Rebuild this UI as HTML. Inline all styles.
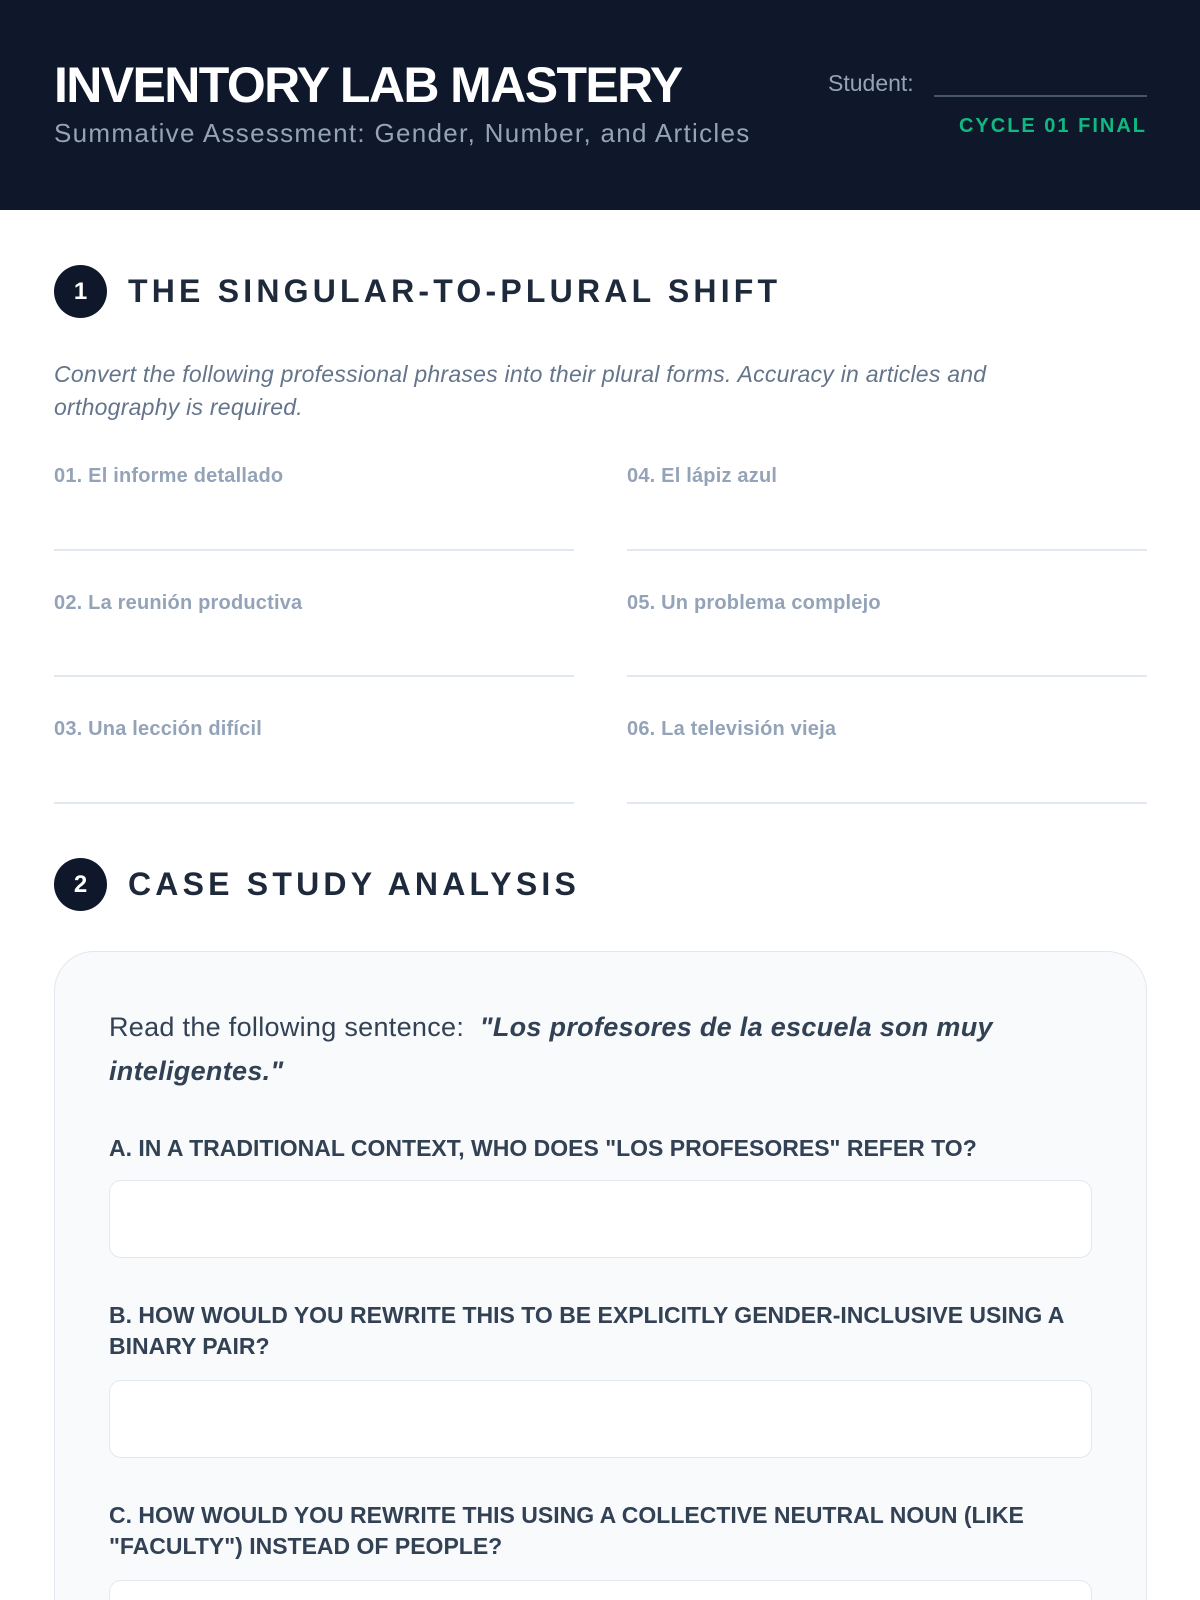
<!DOCTYPE html>
<html><head><meta charset="utf-8"><style>
*{margin:0;padding:0;box-sizing:border-box}
html,body{width:1200px;height:1600px;overflow:hidden}
body{background:#fff;font-family:"Liberation Sans",sans-serif;position:relative}
.abs{position:absolute;white-space:nowrap}
header{position:absolute;left:0;top:0;width:1200px;height:210px;background:#0f172a}
.circ{position:absolute;left:54px;width:53px;height:53px;border-radius:50%;background:#0f172a;color:#fff;font-weight:bold;font-size:24px;text-align:center;line-height:53px}
.h2{position:absolute;left:128px;font-size:32px;font-weight:900;letter-spacing:4.2px;color:#1e293b;line-height:40px}
.lbl{position:absolute;font-size:20px;font-weight:bold;color:#94a3b8;letter-spacing:0.2px}
.ln{position:absolute;height:1.5px;background:#e2e8f0;width:520px}
.q{position:absolute;left:109px;width:1000px;font-size:23px;font-weight:bold;color:#334155;line-height:31px;letter-spacing:0px}
.box{position:absolute;left:109px;width:983px;height:78px;background:#fff;border:1.5px solid #e2e8f0;border-radius:12px}
</style></head><body>
<header>
<div class="abs" style="left:54px;top:56px;font-size:50px;font-weight:bold;color:#fff;letter-spacing:-1.6px">INVENTORY LAB MASTERY</div>
<div class="abs" style="left:54px;top:118px;font-size:26px;color:#94a3b8;letter-spacing:1.3px">Summative Assessment: Gender, Number, and Articles</div>
<div class="abs" style="left:828px;top:70px;font-size:23px;color:#94a3b8">Student:</div>
<div class="abs" style="left:934px;top:95px;width:213px;height:2px;background:#475569"></div>
<div class="abs" style="right:53px;top:115px;font-size:20px;font-weight:bold;color:#10b981;letter-spacing:2px">CYCLE 01 FINAL</div>
</header>
<div class="circ" style="top:265px">1</div>
<div class="h2" style="top:271px">THE SINGULAR-TO-PLURAL SHIFT</div>
<div class="abs" style="left:54px;top:358px;width:1060px;white-space:normal;font-size:23px;font-style:italic;color:#64748b;line-height:33px;letter-spacing:0.25px">Convert the following professional phrases into their plural forms. Accuracy in articles and<br>orthography is required.</div>
<div class="lbl" style="left:54px;top:465px">01. El informe detallado</div>
<div class="lbl" style="left:627px;top:465px">04. El lápiz azul</div>
<div class="ln" style="left:54px;top:549px"></div><div class="ln" style="left:627px;top:549px"></div>
<div class="lbl" style="left:54px;top:592px">02. La reunión productiva</div>
<div class="lbl" style="left:627px;top:592px">05. Un problema complejo</div>
<div class="ln" style="left:54px;top:675px"></div><div class="ln" style="left:627px;top:675px"></div>
<div class="lbl" style="left:54px;top:718px">03. Una lección difícil</div>
<div class="lbl" style="left:627px;top:718px">06. La televisión vieja</div>
<div class="ln" style="left:54px;top:802px"></div><div class="ln" style="left:627px;top:802px"></div>
<div class="circ" style="top:858px">2</div>
<div class="h2" style="top:864px">CASE STUDY ANALYSIS</div>
<div class="abs" style="left:54px;top:951px;width:1093px;height:700px;background:#f8fafc;border:1.5px solid #e2e8f0;border-radius:40px"></div>
<div class="abs" style="left:109px;top:1005px;width:1000px;white-space:normal;font-size:27px;color:#334155;line-height:44px;letter-spacing:0.3px">Read the following sentence:&nbsp; <b><i>"Los profesores de la escuela son muy<br>inteligentes."</i></b></div>
<div class="q" style="top:1133px">A. IN A TRADITIONAL CONTEXT, WHO DOES "LOS PROFESORES" REFER TO?</div>
<div class="box" style="top:1180px"></div>
<div class="q" style="top:1300px">B. HOW WOULD YOU REWRITE THIS TO BE EXPLICITLY GENDER-INCLUSIVE USING A<br>BINARY PAIR?</div>
<div class="box" style="top:1380px"></div>
<div class="q" style="top:1500px">C. HOW WOULD YOU REWRITE THIS USING A COLLECTIVE NEUTRAL NOUN (LIKE<br>"FACULTY") INSTEAD OF PEOPLE?</div>
<div class="box" style="top:1580px"></div>
</body></html>
